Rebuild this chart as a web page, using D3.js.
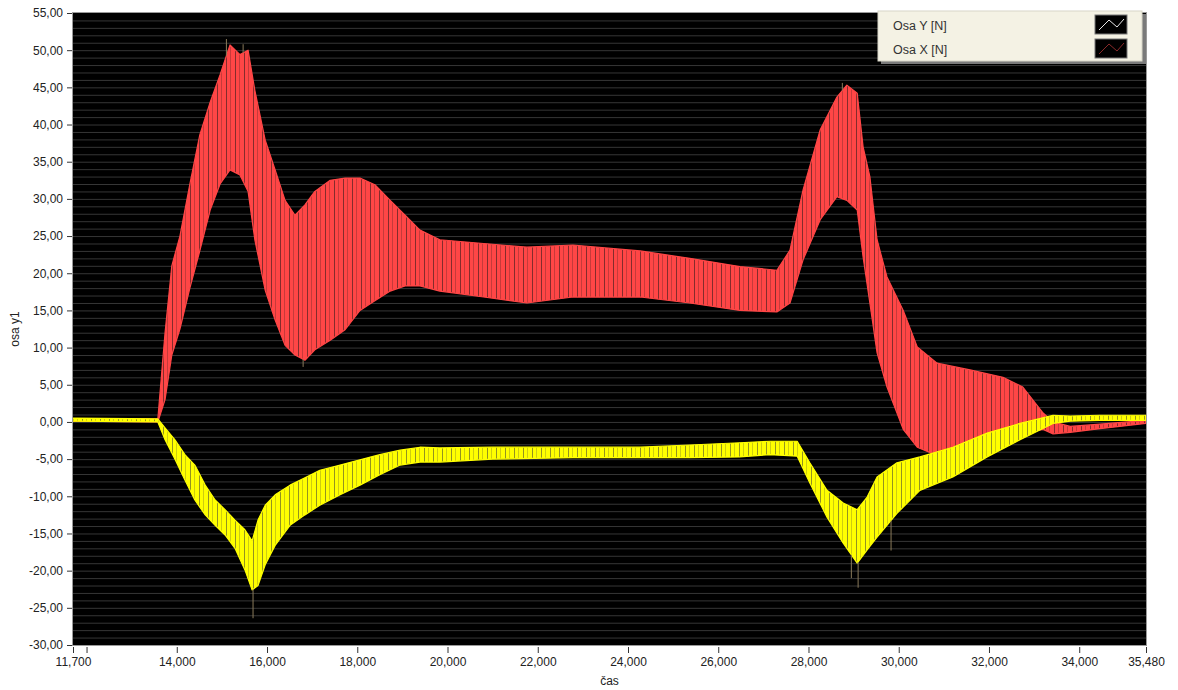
<!DOCTYPE html>
<html>
<head>
<meta charset="utf-8">
<style>
body { margin: 0; background: #fff; }
text { font-family: "Liberation Sans", Arial, sans-serif; }
.tick text { font-size: 12px; fill: #222; }
.tick line { stroke: #333; }
</style>
</head>
<body>
<div id="chart"></div>
<script src="https://cdn.jsdelivr.net/npm/d3@7"></script>
<script>

var width = 1178;
var height = 690;

// time in seconds, envelope of the X signal (upper / lower), N
var timeX  = [11.70, 13.58, 13.74, 13.89, 14.07, 14.29, 14.51, 14.74, 14.96, 15.18, 15.40, 15.58, 15.73, 15.96, 16.18, 16.40, 16.62, 16.84, 17.06, 17.40, 17.73, 18.06, 18.39, 18.73, 19.06, 19.39, 19.83, 20.80, 21.76, 22.78, 24.27, 25.37, 26.48, 27.30, 27.59, 27.88, 28.26, 28.63, 28.85, 29.08, 29.21, 29.36, 29.52, 29.74, 30.10, 30.41, 30.85, 31.58, 32.31, 32.75, 33.20, 33.42, 33.80, 34.46, 35.48];
var upperX = [0.4, 0.4, 12, 21, 25, 32, 38.6, 43, 46.7, 50.7, 49.4, 50, 44.6, 37.9, 33.9, 29.8, 27.8, 29.2, 31, 32.5, 32.8, 32.8, 31.9, 29.8, 27.8, 25.8, 24.5, 24, 23.5, 23.8, 23, 22, 20.9, 20.4, 23.1, 31.2, 39.3, 43.7, 45.3, 44.2, 37, 33, 24.5, 19.5, 15, 10.1, 7.9, 7, 6, 4.7, 1.2, 0, -0.6, -0.3, 0.2];
var lowerX = [0.1, 0.0, 3, 9, 12.5, 18, 23, 28.5, 32, 33.9, 33.2, 31, 24.5, 17.7, 13.7, 10.3, 9, 8.3, 9.7, 11, 12.4, 15, 16.3, 17.6, 18.3, 18.3, 17.6, 16.8, 16, 16.8, 16.8, 16, 15, 14.8, 16, 21.8, 27.2, 30.3, 29.8, 28.5, 22.2, 16, 9.3, 4.7, -1, -3.4, -4.5, -4, -2.4, -1.5, -1, -1.6, -1.4, -0.9, -0.2];

// envelope of the Y signal (upper / lower), N
var timeY  = [11.70, 13.58, 13.74, 13.96, 14.18, 14.40, 14.63, 14.85, 15.07, 15.29, 15.51, 15.67, 15.80, 15.96, 16.18, 16.51, 16.84, 17.17, 17.62, 18.06, 18.50, 18.95, 19.39, 19.83, 21.00, 22.78, 24.27, 25.37, 26.48, 27.15, 27.75, 28.03, 28.41, 28.77, 29.08, 29.30, 29.52, 29.96, 30.47, 31.20, 31.96, 32.69, 33.42, 33.80, 34.46, 35.48];
var upperY = [0.5, 0.4, -0.8, -2.4, -4.4, -5.8, -8.5, -10.5, -11.8, -13.2, -14.5, -16.0, -13.2, -11.2, -9.8, -8.5, -7.5, -6.5, -5.8, -5.1, -4.4, -3.8, -3.4, -3.5, -3.4, -3.4, -3.4, -3.1, -2.8, -2.6, -2.6, -5.5, -9.2, -10.9, -11.8, -10.1, -7.4, -5.5, -4.7, -3.4, -1.5, -0.2, 0.9, 0.8, 0.9, 0.9];
var lowerY = [0.1, 0.0, -2.4, -5, -7.8, -10.5, -12.5, -13.9, -15.2, -17, -19.9, -22.6, -22, -19.2, -16.6, -13.9, -12.5, -11.2, -9.8, -8.5, -7.1, -5.8, -5.4, -5.4, -5.0, -4.8, -4.8, -4.8, -4.7, -4.4, -4.6, -8.2, -12.8, -16.3, -19, -17.2, -15.5, -12.3, -9.2, -7.4, -4.7, -2.4, -0.2, 0.1, 0.2, 0.2];

// single peaks sticking out of the bands: [time, value]
var spikesX = [[15.10, 51.5], [15.47, 50.8], [28.75, 45.6], [16.80, 7.4], [30.95, -5.2]];
var spikesY = [[15.69, -26.4], [29.10, -22.3], [29.83, -17.3], [28.95, -21.0]];

var yTicks = d3.range(-30, 56, 5);
var xTicks = [11.7, 12, 14, 16, 18, 20, 22, 24, 26, 28, 30, 32, 34, 35.48];

var legendNames = ["Osa Y [N]", "Osa X [N]"];

var x = d3.scaleLinear().domain([11.7, 35.48]).range([73, 1146]);
var y = d3.scaleLinear().domain([-30, 55]).range([645, 13]);

function comma(v, n) {
  return (v < 0 ? "-" : "") + Math.abs(v).toFixed(n).replace(".", ",");
}

var svg = d3.select("#chart").append("svg")
    .attr("width", width)
    .attr("height", height);

var defs = svg.append("defs");

// vertical dark stripes, like the dense oscillation of the trace
function stripes(id, fill, dark) {
  var p = defs.append("pattern")
      .attr("id", id)
      .attr("patternUnits", "userSpaceOnUse")
      .attr("width", 9)
      .attr("height", 20);
  p.append("rect").attr("width", 9).attr("height", 20).attr("fill", fill);
  p.append("line").attr("x1", 1.5).attr("x2", 1.5).attr("y1", 0).attr("y2", 20)
      .attr("stroke", dark).attr("stroke-width", 1).attr("opacity", 0.75);
  p.append("line").attr("x1", 5.5).attr("x2", 5.5).attr("y1", 0).attr("y2", 20)
      .attr("stroke", dark).attr("stroke-width", 1).attr("opacity", 0.35);
}
stripes("stripesX", "#ff4646", "#5a2222");
stripes("stripesY", "#ffff00", "#6e6e2a");

defs.append("clipPath").attr("id", "plotClip")
  .append("rect")
    .attr("x", x.range()[0]).attr("y", y.range()[1])
    .attr("width", x.range()[1] - x.range()[0])
    .attr("height", y.range()[0] - y.range()[1]);

// plot background
svg.append("rect")
    .attr("x", x.range()[0]).attr("y", y.range()[1])
    .attr("width", x.range()[1] - x.range()[0])
    .attr("height", y.range()[0] - y.range()[1])
    .attr("fill", "#000");

// horizontal grid every 1 N
svg.append("g")
  .selectAll("line")
  .data(d3.range(-29, 55, 1))
  .enter().append("line")
    .attr("x1", x.range()[0]).attr("x2", x.range()[1])
    .attr("y1", function(d) { return y(d) + 0.5; })
    .attr("y2", function(d) { return y(d) + 0.5; })
    .attr("stroke", "#363636")
    .attr("stroke-width", 1);

var plot = svg.append("g").attr("clip-path", "url(#plotClip)");

function drawSeries(times, up, lo, spikes, fillId, color) {
  var rows = times.map(function(t, i) { return {t: t, u: up[i], l: lo[i]}; });
  var area = d3.area()
      .x(function(d) { return x(d.t); })
      .y0(function(d) { return y(d.l); })
      .y1(function(d) { return y(d.u); });

  // thin stroke keeps the flat, narrow parts of the trace visible
  plot.append("path")
      .datum(rows)
      .attr("d", area)
      .attr("fill", "url(#" + fillId + ")")
      .attr("stroke", color)
      .attr("stroke-width", 1.2)
      .attr("stroke-linejoin", "round");

  // spikes go from the nearest envelope edge out to the peak value
  var upper = d3.scaleLinear().domain(times).range(up);
  var lower = d3.scaleLinear().domain(times).range(lo);
  plot.append("g")
    .selectAll("line")
    .data(spikes)
    .enter().append("line")
      .attr("x1", function(d) { return x(d[0]); })
      .attr("x2", function(d) { return x(d[0]); })
      .attr("y1", function(d) { return d[1] > upper(d[0]) ? y(upper(d[0])) : y(lower(d[0])); })
      .attr("y2", function(d) { return y(d[1]); })
      .attr("stroke", "#8a7a5a")
      .attr("stroke-width", 1);
}

drawSeries(timeX, upperX, lowerX, spikesX, "stripesX", "#ff4646");
drawSeries(timeY, upperY, lowerY, spikesY, "stripesY", "#ffff00");

// frame
svg.append("rect")
    .attr("x", x.range()[0] - 0.5).attr("y", y.range()[1] - 0.5)
    .attr("width", x.range()[1] - x.range()[0] + 1)
    .attr("height", y.range()[0] - y.range()[1] + 1)
    .attr("fill", "none")
    .attr("stroke", "#9a9a9a")
    .attr("stroke-width", 1);

// axes
var yAxis = svg.append("g")
    .attr("transform", "translate(" + (x.range()[0] - 1) + ",0)")
    .call(d3.axisLeft(y)
        .tickValues(yTicks)
        .tickSize(5)
        .tickPadding(4)
        .tickSizeOuter(0)
        .tickFormat(function(d) { return comma(d, 2); }));
yAxis.select(".domain").remove();

var xAxis = svg.append("g")
    .attr("transform", "translate(0," + (y.range()[0] + 2) + ")")
    .call(d3.axisBottom(x)
        .tickValues(xTicks)
        .tickSize(6)
        .tickPadding(4)
        .tickSizeOuter(0)
        .tickFormat(function(d) { return d === 12 ? "" : comma(d, 3); }));
xAxis.select(".domain").remove();

svg.append("text")
    .attr("x", (x.range()[0] + x.range()[1]) / 2)
    .attr("y", 685)
    .attr("text-anchor", "middle")
    .attr("font-size", 12)
    .attr("fill", "#222")
    .text("čas");

svg.append("text")
    .attr("transform", "translate(19," + ((y.range()[0] + y.range()[1]) / 2) + ") rotate(-90)")
    .attr("text-anchor", "middle")
    .attr("font-size", 12)
    .attr("fill", "#222")
    .text("osa y1");

// legend
var legend = svg.append("g").attr("transform", "translate(878,11)");
legend.append("rect")
    .attr("x", 3).attr("y", 3)
    .attr("width", 265).attr("height", 50)
    .attr("fill", "#7a7a7a");
legend.append("rect")
    .attr("width", 264).attr("height", 50)
    .attr("fill", "#f4f2e4")
    .attr("stroke", "#d8d6c8");

var swatchLine = ["#e8e8e8", "#8a2a2a"];
var item = legend.selectAll(".item")
  .data(legendNames)
  .enter().append("g")
    .attr("class", "item")
    .attr("transform", function(d, i) { return "translate(0," + (i * 24) + ")"; });

item.append("text")
    .attr("x", 15)
    .attr("y", 19)
    .attr("font-size", 12.5)
    .attr("fill", "#333")
    .text(function(d) { return d; });

item.append("rect")
    .attr("x", 217).attr("y", 4)
    .attr("width", 32).attr("height", 19)
    .attr("fill", "#000")
    .attr("stroke", "#777");

item.append("path")
    .attr("d", "M221,19 L231,9 L239,16 L246,8")
    .attr("fill", "none")
    .attr("stroke", function(d, i) { return swatchLine[i]; })
    .attr("stroke-width", 1);

</script>
</body>
</html>
